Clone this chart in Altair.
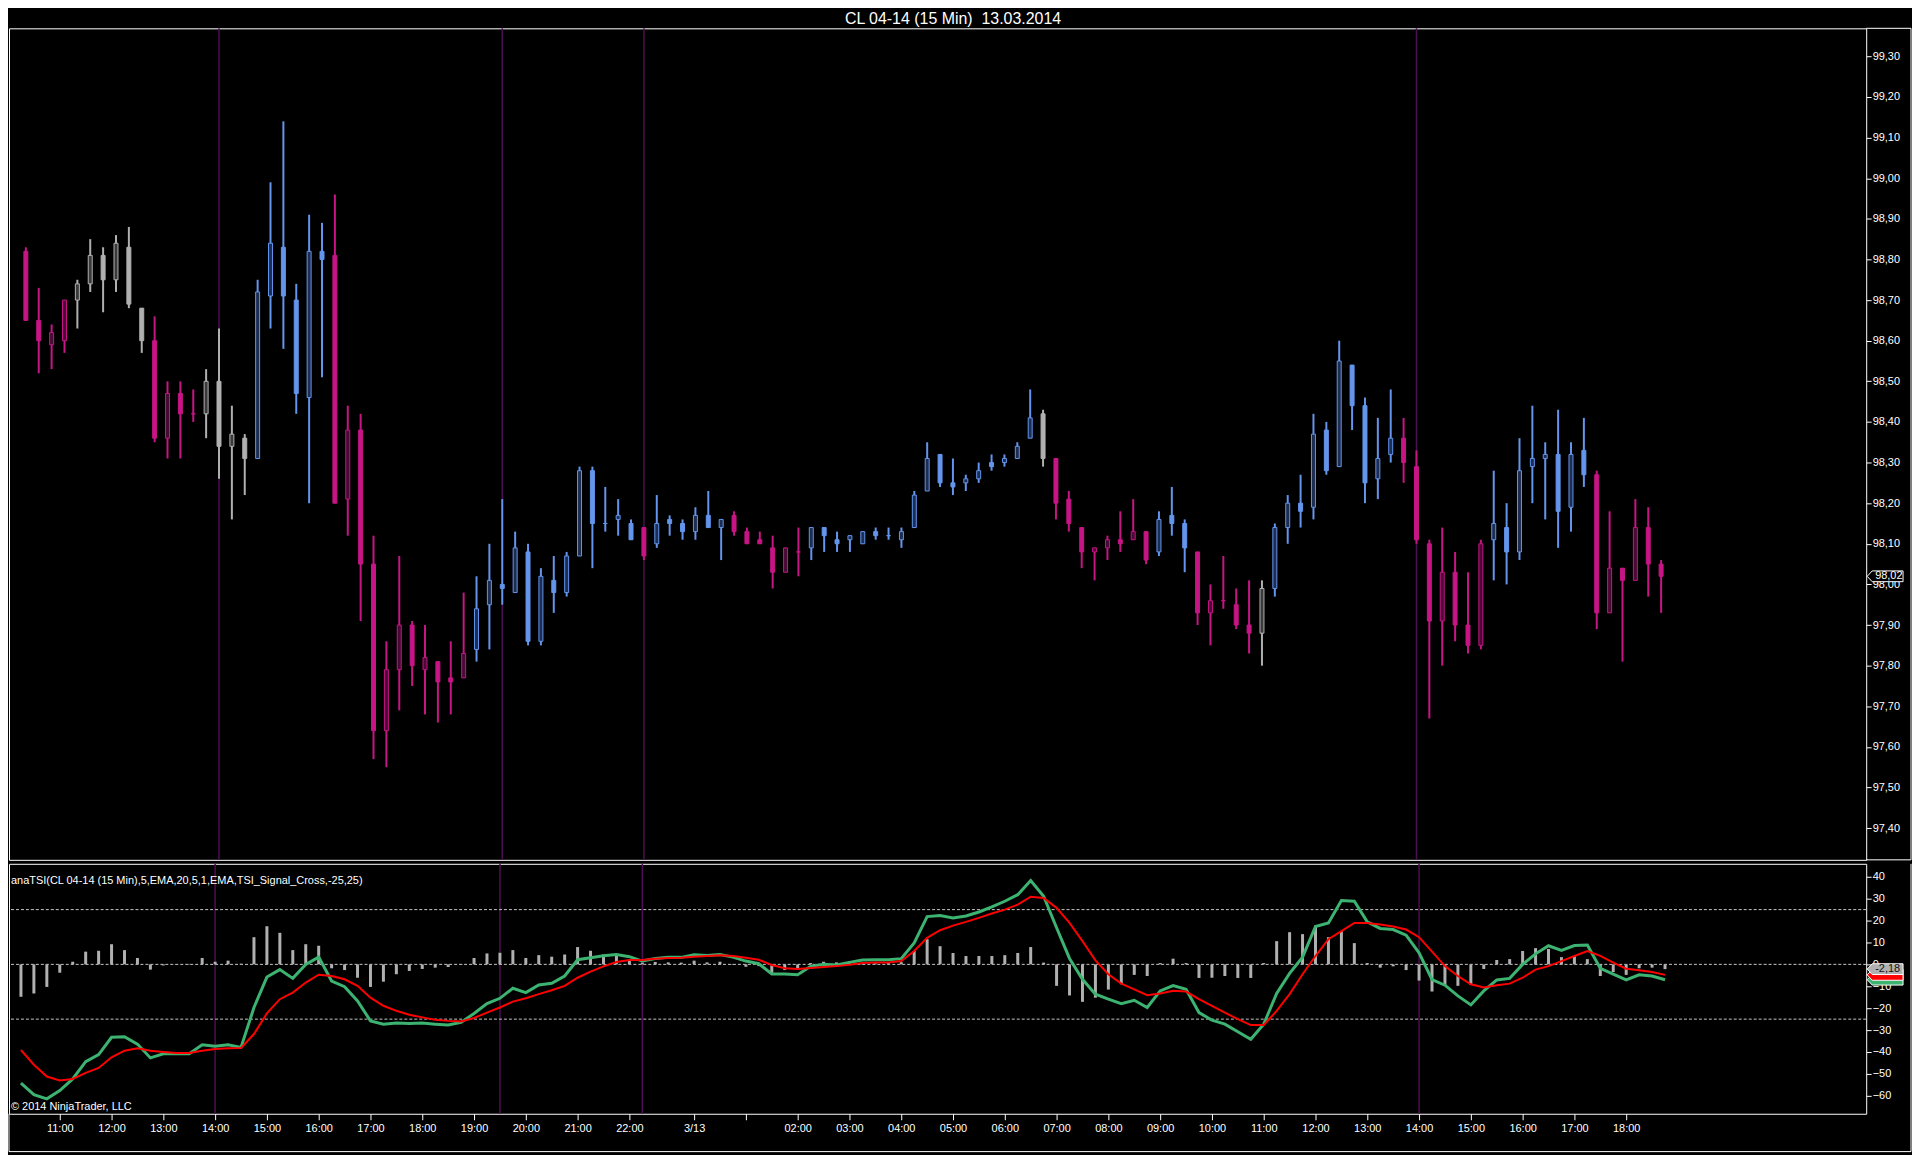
import altair as alt
import pandas as pd

# ---------------- data ----------------
opens = [98.82, 98.65, 98.59, 98.60, 98.70, 98.74, 98.81, 98.75, 98.83, 98.68,
         98.60, 98.36, 98.47, 98.42, 98.42, 98.50, 98.34, 98.36, 98.31, 98.71,
         98.83, 98.70, 98.46, 98.82, 98.81, 98.21, 98.38, 98.05, 97.64, 97.79,
         97.90, 97.79, 97.81, 97.77, 97.77, 97.84, 97.95, 98.00, 97.98, 98.08,
         97.86, 98.01, 97.98, 98.07, 98.28, 98.15, 98.16, 98.15, 98.14, 98.10,
         98.16, 98.15, 98.13, 98.17, 98.14, 98.17, 98.13, 98.11, 98.09, 98.03,
         98.08, 98.09, 98.14, 98.11, 98.11, 98.10, 98.13, 98.12, 98.11, 98.14,
         98.23, 98.32, 98.25, 98.25, 98.26, 98.30, 98.30, 98.31, 98.36, 98.42,
         98.31, 98.21, 98.14, 98.08, 98.09, 98.11, 98.11, 98.13, 98.08, 98.17,
         98.15, 98.08, 97.93, 97.96, 97.95, 97.90, 97.88, 97.99, 98.14, 98.20,
         98.19, 98.38, 98.29, 98.54, 98.44, 98.26, 98.32, 98.36, 98.29, 98.10,
         97.91, 98.03, 97.90, 97.85, 98.11, 98.14, 98.08, 98.29, 98.31, 98.32,
         98.19, 98.33, 98.27, 97.93, 98.04, 98.01, 98.14, 98.05]
highs = [98.83, 98.73, 98.64, 98.70, 98.75, 98.85, 98.83, 98.86, 98.88, 98.68,
         98.66, 98.50, 98.50, 98.48, 98.53, 98.63, 98.44, 98.37, 98.75, 98.99,
         99.14, 98.74, 98.91, 98.89, 98.96, 98.44, 98.42, 98.12, 97.86, 98.07,
         97.91, 97.90, 97.81, 97.86, 97.98, 98.02, 98.10, 98.21, 98.13, 98.10,
         98.04, 98.07, 98.08, 98.29, 98.29, 98.24, 98.21, 98.16, 98.14, 98.22,
         98.17, 98.16, 98.19, 98.23, 98.16, 98.18, 98.14, 98.13, 98.12, 98.09,
         98.14, 98.14, 98.14, 98.13, 98.12, 98.13, 98.14, 98.14, 98.14, 98.23,
         98.35, 98.32, 98.31, 98.27, 98.30, 98.32, 98.32, 98.35, 98.48, 98.43,
         98.31, 98.23, 98.14, 98.09, 98.12, 98.18, 98.21, 98.13, 98.18, 98.24,
         98.16, 98.08, 98.00, 98.07, 97.99, 98.01, 98.01, 98.15, 98.22, 98.27,
         98.42, 98.40, 98.60, 98.54, 98.46, 98.41, 98.48, 98.41, 98.33, 98.11,
         98.14, 98.08, 98.03, 98.11, 98.28, 98.20, 98.36, 98.44, 98.35, 98.43,
         98.35, 98.41, 98.28, 98.18, 98.04, 98.21, 98.19, 98.06]
lows = [98.65, 98.52, 98.53, 98.57, 98.63, 98.72, 98.67, 98.72, 98.68, 98.57,
        98.35, 98.31, 98.31, 98.40, 98.36, 98.26, 98.16, 98.22, 98.31, 98.63,
        98.58, 98.42, 98.20, 98.51, 98.20, 98.12, 97.91, 97.57, 97.55, 97.69,
        97.75, 97.68, 97.66, 97.68, 97.77, 97.81, 97.84, 97.95, 97.98, 97.85,
        97.85, 97.93, 97.97, 98.07, 98.04, 98.13, 98.12, 98.11, 98.06, 98.09,
        98.12, 98.11, 98.11, 98.14, 98.06, 98.12, 98.10, 98.10, 97.99, 98.03,
        98.02, 98.06, 98.08, 98.08, 98.08, 98.10, 98.11, 98.11, 98.09, 98.14,
        98.23, 98.24, 98.22, 98.23, 98.25, 98.28, 98.29, 98.31, 98.36, 98.29,
        98.16, 98.13, 98.04, 98.01, 98.06, 98.08, 98.11, 98.05, 98.07, 98.12,
        98.03, 97.90, 97.85, 97.94, 97.89, 97.83, 97.80, 97.97, 98.10, 98.14,
        98.16, 98.27, 98.29, 98.38, 98.20, 98.21, 98.30, 98.25, 98.10, 97.67,
        97.80, 97.86, 97.83, 97.84, 98.01, 98.00, 98.06, 98.20, 98.16, 98.09,
        98.13, 98.24, 97.89, 97.93, 97.81, 98.01, 97.97, 97.93]
closes = [98.65, 98.60, 98.62, 98.70, 98.74, 98.81, 98.75, 98.84, 98.69, 98.60,
          98.36, 98.47, 98.42, 98.42, 98.50, 98.34, 98.37, 98.31, 98.72, 98.84,
          98.71, 98.47, 98.82, 98.80, 98.20, 98.38, 98.05, 97.64, 97.79, 97.90,
          97.80, 97.82, 97.76, 97.76, 97.83, 97.94, 98.01, 97.99, 98.09, 97.86,
          98.02, 97.98, 98.07, 98.28, 98.15, 98.15, 98.17, 98.11, 98.07, 98.15,
          98.15, 98.13, 98.17, 98.14, 98.16, 98.13, 98.10, 98.10, 98.03, 98.09,
          98.08, 98.14, 98.12, 98.10, 98.12, 98.13, 98.12, 98.12, 98.13, 98.22,
          98.31, 98.25, 98.24, 98.26, 98.28, 98.29, 98.31, 98.34, 98.41, 98.31,
          98.20, 98.15, 98.08, 98.09, 98.11, 98.10, 98.13, 98.06, 98.16, 98.15,
          98.09, 97.93, 97.96, 97.96, 97.90, 97.88, 97.99, 98.14, 98.20, 98.18,
          98.37, 98.28, 98.55, 98.44, 98.25, 98.31, 98.36, 98.30, 98.11, 97.91,
          98.03, 97.90, 97.85, 98.10, 98.15, 98.08, 98.28, 98.31, 98.32, 98.18,
          98.32, 98.27, 97.93, 98.04, 98.01, 98.14, 98.05, 98.02]
# bar trend colouring: P = pink (down trend), B = blue (up trend), G = gray (neutral)
trend = list("PPPPGGGGGG" "PPPPGGGGBB" "BBBBPPPPPP" "PPPPPBBBBB" "BBBBBBBBPB"
             "BBBBBPPPPP" "PBBBBBBBBB" "BBBBBBBBBG" "PPPPPPPPBB" "BPPPPPGBBB"
             "BBBBBBBPPP" "PPPPBBBBBB" "BBPPPPPP")

tsi = [-54.2, -59.5, -61.4, -57.6, -52.3, -44.4, -41.2, -33.3, -33.0, -36.4,
       -42.7, -40.8, -40.8, -40.8, -36.7, -37.4, -36.7, -37.9, -19.7, -5.8,
       -2.4, -6.4, 0.0, 3.3, -7.6, -10.2, -16.7, -25.8, -27.3, -26.8,
       -27.0, -26.8, -27.3, -27.7, -26.5, -22.4, -17.9, -15.5, -10.9, -12.9,
       -9.4, -8.6, -5.3, 2.1, 3.0, 3.9, 4.5, 3.5, 1.5, 2.7,
       3.2, 3.2, 4.4, 4.1, 4.5, 3.3, 1.5, 0.3, -4.4, -4.4,
       -4.7, -0.9, 0.0, -0.3, 0.9, 2.0, 2.1, 2.1, 2.6, 9.8,
       21.8, 22.3, 21.2, 22.1, 23.9, 26.2, 28.8, 31.8, 38.3, 31.1,
       16.7, 2.7, -6.8, -13.6, -15.9, -17.9, -16.4, -19.7, -12.1, -9.7,
       -11.4, -22.0, -25.5, -27.3, -30.8, -34.2, -27.3, -13.3, -4.1, 3.3,
       17.3, 18.9, 29.1, 28.8, 19.4, 16.4, 15.9, 13.3, 5.3, -7.0,
       -9.5, -14.4, -18.5, -12.1, -7.1, -6.4, 0.0, 4.8, 8.5, 6.4,
       8.6, 8.8, -1.8, -4.5, -7.1, -4.8, -5.3, -7.0]
signal = [-39.1, -45.8, -51.2, -53.0, -52.3, -49.5, -47.3, -42.4, -39.4, -38.3,
          -39.4, -40.0, -40.5, -40.5, -39.4, -38.6, -38.3, -38.2, -31.8, -22.4,
          -15.9, -12.9, -8.3, -4.7, -5.3, -6.8, -9.8, -15.2, -18.9, -21.2,
          -23.0, -24.2, -25.3, -25.8, -26.1, -24.5, -22.0, -19.7, -17.0, -15.5,
          -13.6, -11.8, -9.8, -6.1, -3.3, -0.9, 1.1, 2.0, 2.0, 2.6,
          2.9, 3.0, 3.5, 3.8, 4.2, 3.8, 3.0, 2.1, -0.3, -1.8,
          -2.1, -1.7, -1.2, -0.8, -0.2, 0.6, 0.8, 0.9, 1.5, 6.1,
          12.1, 15.6, 17.7, 19.4, 21.2, 23.2, 25.0, 27.3, 30.9, 30.3,
          25.8, 18.9, 10.6, 1.8, -4.5, -8.8, -11.4, -14.1, -13.3, -12.1,
          -12.4, -15.9, -18.9, -22.0, -25.0, -27.7, -27.7, -21.2, -13.6, -4.5,
          3.8, 11.5, 15.2, 18.9, 18.9, 18.2, 17.3, 15.9, 12.4, 5.8,
          -0.8, -5.3, -9.1, -10.6, -9.5, -8.8, -6.1, -2.4, -0.8, 1.5,
          3.8, 6.1, 3.9, 0.8, -2.0, -2.7, -3.5, -4.8]
hist = [-14.8, -13.3, -10.3, -3.8, 1.2, 5.8, 6.2, 9.2, 6.5, 2.9,
        -2.4, -0.5, -0.2, 0.2, 2.9, 1.2, 1.7, 0.3, 12.4, 17.4,
        14.4, 6.5, 9.2, 8.5, -1.8, -2.6, -6.1, -10.3, -7.9, -4.5,
        -3.0, -2.1, -1.5, -1.2, -0.3, 2.9, 5.0, 5.3, 6.5, 2.9,
        4.2, 3.5, 4.5, 7.9, 6.2, 4.5, 3.9, 1.7, 0.8, 1.1,
        0.9, 0.8, 1.7, 0.9, 1.2, -0.3, -1.1, -0.8, -3.9, -2.6,
        -1.8, 0.6, 1.2, 0.9, 1.5, 0.5, 0.5, 0.6, 1.0, 6.1,
        11.5, 8.3, 5.2, 3.8, 3.8, 3.8, 4.2, 5.2, 7.9, 0.8,
        -9.8, -14.2, -17.1, -15.2, -11.5, -9.1, -4.8, -5.3, 0.6, 2.6,
        0.6, -6.2, -6.1, -5.3, -6.2, -6.2, 0.6, 10.6, 14.7, 13.8,
        17.7, 12.4, 15.2, 9.7, 0.6, -1.5, -0.9, -2.6, -7.4, -12.4,
        -9.5, -9.8, -9.4, -2.1, 2.0, 2.4, 6.1, 7.4, 7.0, 3.3,
        3.8, 2.4, -5.3, -3.5, -4.8, -1.8, -1.5, -2.18]

bar_no = list(range(1, len(closes) + 1))

tick_bars = [4, 8, 12, 16, 20, 24, 28, 32, 36, 40, 44, 48, 53, 57, 61, 65, 69, 73,
             77, 81, 85, 89, 93, 97, 101, 105, 109, 113, 117, 121, 125]
tick_labels = ["11:00", "12:00", "13:00", "14:00", "15:00", "16:00", "17:00", "18:00",
               "19:00", "20:00", "21:00", "22:00", "3/13", "", "02:00", "03:00", "04:00",
               "05:00", "06:00", "07:00", "08:00", "09:00", "10:00", "11:00", "12:00",
               "13:00", "14:00", "15:00", "16:00", "17:00", "18:00"]
session_bars = [16, 38, 49, 109]
price_ticks = [97.40, 97.50, 97.60, 97.70, 97.80, 97.90, 98.00, 98.10, 98.20, 98.30,
               98.40, 98.50, 98.60, 98.70, 98.80, 98.90, 99.00, 99.10, 99.20, 99.30]
tsi_ticks = [40, 30, 20, 10, 0, -10, -20, -30, -40, -50, -60]
tsi_levels = [25, 0, -25]

title_text = "CL 04-14 (15 Min) \u00a013.03.2014"
ind_label = "anaTSI(CL 04-14 (15 Min),5,EMA,20,5,1,EMA,TSI_Signal_Cross,-25,25)"
copyright_text = "\u00a9 2014 NinjaTrader, LLC"

# ---------------- styling ----------------
FONT = "Liberation Sans, Arial, sans-serif"
PINK, BLUE, GRAY = "#C71585", "#6495ED", "#B0B0B0"
main_col = {"P": PINK, "B": BLUE, "G": GRAY}
hollow_col = {"P": "#4A0A36", "B": "#1E2E52", "G": "#3A3A3A"}
SESSION = "#4E0E52"
GREEN, RED = "#3CB371", "#FF0000"

W, H1, H2 = 1865, 835, 251

bars = pd.DataFrame({"i": bar_no, "o": opens, "h": highs, "l": lows, "c": closes, "t": trend})
bars["stroke"] = bars["t"].map(main_col)
bars["fill"] = [hollow_col[t] if c > o else main_col[t]
                for t, o, c in zip(bars["t"], bars["o"], bars["c"])]

ind = pd.DataFrame({"i": bar_no, "tsi": tsi, "sig": signal, "hist": hist})
sess = pd.DataFrame({"i": session_bars})
lev = pd.DataFrame({"v": tsi_levels})
one = pd.DataFrame({"k": [0]})


def fmt(v):
    return f"{v:.2f}".replace(".", ",")


last_price = pd.DataFrame({"v": [closes[-1]], "txt": [fmt(closes[-1])]})
last_ind = pd.DataFrame({
    "v": [tsi[-1], signal[-1], hist[-1]],
    "fill": [GREEN, RED, GRAY],
    "ord": [0, 1, 2],
})
last_hist = pd.DataFrame({"v": [hist[-1]], "txt": [fmt(hist[-1])]})

xs = alt.Scale(domain=[0.077, 143.54], nice=False, zero=False)
ys_price = alt.Scale(domain=[97.322, 99.369], nice=False, zero=False)
ys_ind = alt.Scale(domain=[-68.2, 45.9], nice=False, zero=False)

label_expr = ("[" + ",".join(f"'{l}'" for l in tick_labels) + "][indexof(["
              + ",".join(str(b) for b in tick_bars) + "], datum.value)]")

price_axis = alt.Axis(
    orient="right", values=price_ticks, title=None, grid=False,
    labelExpr="replace(format(datum.value, '.2f'), '.', ',')",
    labelColor="white", labelFont=FONT, labelFontSize=11, labelPadding=1,
    tickColor="white", tickSize=5, domain=False)
tsi_axis = alt.Axis(
    orient="right", values=tsi_ticks, title=None, grid=False, format="d",
    labelColor="white", labelFont=FONT, labelFontSize=11, labelPadding=1,
    tickColor="white", tickSize=5, domain=False)
time_axis = alt.Axis(
    orient="bottom", values=tick_bars, labelExpr=label_expr, title=None, grid=False,
    labelColor="white", labelFont=FONT, labelFontSize=11, labelPadding=3,
    tickColor="white", tickSize=6, domain=False, labelOverlap=False, labelFlush=False)

marker_shape = "M -1 0 L -0.72 -0.3 L 1 -0.3 L 1 0.3 L -0.72 0.3 Z"

# ---------------- price panel ----------------
PX = alt.X("i:Q", scale=xs, axis=None)

p_sess = alt.Chart(sess).mark_rule(color=SESSION, strokeWidth=1.5).encode(x=PX)

p_wick = alt.Chart(bars).mark_rule(strokeWidth=2).encode(
    x=PX,
    y=alt.Y("l:Q", scale=ys_price, axis=price_axis),
    y2="h:Q",
    color=alt.Color("stroke:N", scale=None))

p_body = alt.Chart(bars).mark_bar(width=4, strokeWidth=1).encode(
    x=PX,
    y=alt.Y("o:Q", scale=ys_price, axis=price_axis),
    y2="c:Q",
    fill=alt.Fill("fill:N", scale=None),
    stroke=alt.Stroke("stroke:N", scale=None))

p_mark = alt.Chart(last_price).mark_point(
    shape=marker_shape, size=1296, filled=True, fill="black",
    stroke="white", strokeWidth=1, opacity=1).encode(
    x=alt.value(W + 19), y=alt.Y("v:Q", scale=ys_price, axis=price_axis))

p_mark_txt = alt.Chart(last_price).mark_text(
    align="left", baseline="middle", color="white", font=FONT, fontSize=11).encode(
    x=alt.value(W + 9), y=alt.Y("v:Q", scale=ys_price, axis=price_axis), text="txt:N")

p_title = alt.Chart(one).mark_text(
    align="center", baseline="middle", color="white", font=FONT, fontSize=16).encode(
    x=alt.value(948), y=alt.value(-9), text=alt.value(title_text))

p_frame_top = alt.Chart(one).mark_rule(color="white", strokeWidth=1).encode(
    x=alt.value(W), x2=alt.value(W + 45), y=alt.value(0))
p_frame_sep = alt.Chart(one).mark_rule(color="white", strokeWidth=1).encode(
    x=alt.value(W), x2=alt.value(W + 45), y=alt.value(H1))
p_frame_right = alt.Chart(one).mark_rule(color="white", strokeWidth=1).encode(
    x=alt.value(W + 45), y=alt.value(0), y2=alt.value(H1))

price_panel = alt.layer(
    p_sess, p_wick, p_body, p_mark, p_mark_txt, p_title,
    p_frame_top, p_frame_sep, p_frame_right
).properties(width=W, height=H1)

# ---------------- indicator panel ----------------
IX = alt.X("i:Q", scale=xs, axis=time_axis)

i_sess = alt.Chart(sess).mark_rule(color=SESSION, strokeWidth=1.5).encode(x=IX)

i_lev = alt.Chart(lev).mark_rule(color="#C8C8C8", strokeWidth=1, strokeDash=[3, 2]).encode(
    y=alt.Y("v:Q", scale=ys_ind, axis=tsi_axis))

i_hist = alt.Chart(ind).mark_rule(color=GRAY, strokeWidth=3).encode(
    x=IX,
    y=alt.Y("hist:Q", scale=ys_ind, axis=tsi_axis),
    y2=alt.datum(0))

i_tsi = alt.Chart(ind).mark_line(color=GREEN, strokeWidth=3).encode(
    x=IX, y=alt.Y("tsi:Q", scale=ys_ind, axis=tsi_axis))

i_sig = alt.Chart(ind).mark_line(color=RED, strokeWidth=2).encode(
    x=IX, y=alt.Y("sig:Q", scale=ys_ind, axis=tsi_axis))

i_mark = alt.Chart(last_ind).mark_point(
    shape=marker_shape, size=1296, filled=True, stroke="white", strokeWidth=1, opacity=1).encode(
    x=alt.value(W + 19),
    y=alt.Y("v:Q", scale=ys_ind, axis=tsi_axis),
    fill=alt.Fill("fill:N", scale=None),
    order=alt.Order("ord:Q"))

i_mark_txt = alt.Chart(last_hist).mark_text(
    align="left", baseline="middle", color="#101010", font=FONT, fontSize=11).encode(
    x=alt.value(W + 9),
    y=alt.Y("v:Q", scale=ys_ind, axis=tsi_axis),
    text="txt:N")

i_label = alt.Chart(one).mark_text(
    align="left", baseline="middle", color="white", font=FONT, fontSize=11).encode(
    x=alt.value(2), y=alt.value(17), text=alt.value(ind_label))

i_copy = alt.Chart(one).mark_text(
    align="left", baseline="middle", color="white", font=FONT, fontSize=11).encode(
    x=alt.value(2), y=alt.value(244), text=alt.value(copyright_text))

i_frame_right = alt.Chart(one).mark_rule(color="white", strokeWidth=1).encode(
    x=alt.value(W + 45), y=alt.value(0), y2=alt.value(H2 + 38))
i_frame_bottom = alt.Chart(one).mark_rule(color="white", strokeWidth=1).encode(
    x=alt.value(0), x2=alt.value(W + 45), y=alt.value(H2 + 38))
i_frame_left = alt.Chart(one).mark_rule(color="white", strokeWidth=1).encode(
    x=alt.value(0), y=alt.value(H2), y2=alt.value(H2 + 38))

ind_panel = alt.layer(
    i_sess, i_lev, i_hist, i_tsi, i_sig, i_mark, i_mark_txt, i_label, i_copy,
    i_frame_right, i_frame_bottom, i_frame_left
).properties(width=W, height=H2)

chart = alt.vconcat(price_panel, ind_panel, spacing=0).properties(
    padding=0,
    background="black",
).configure_view(stroke="white", strokeWidth=1)

chart.save("out.html", embed_options={"renderer": "svg", "actions": False})
